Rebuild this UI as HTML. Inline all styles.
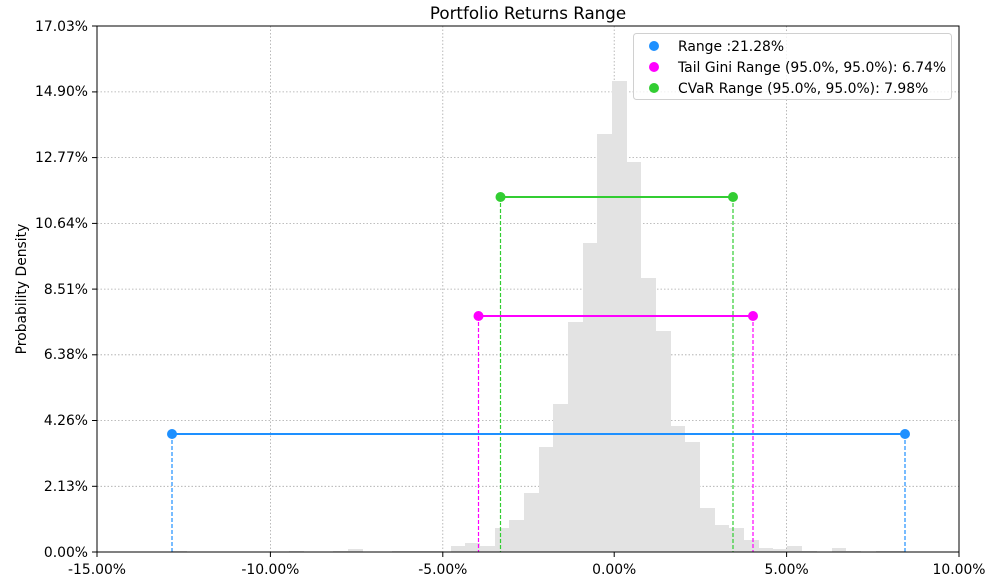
<!DOCTYPE html>
<html><head><meta charset="utf-8"><style>body{margin:0;background:#fff}svg{display:block}text{font-family:"DejaVu Sans","Liberation Sans",sans-serif;font-size:13.9px;fill:#000}</style></head><body>
<svg width="1003" height="586" viewBox="0 0 1003 586" xmlns="http://www.w3.org/2000/svg">
<rect width="1003" height="586" fill="#fff"/>
<g stroke="#a8a8a8" stroke-width="0.8" stroke-dasharray="1.5,2">
<line x1="270.4" y1="26" x2="270.4" y2="552"/><line x1="442.8" y1="26" x2="442.8" y2="552"/><line x1="614.2" y1="26" x2="614.2" y2="552"/><line x1="786.6" y1="26" x2="786.6" y2="552"/>
<line x1="97" y1="486.3" x2="959" y2="486.3"/><line x1="97" y1="420.5" x2="959" y2="420.5"/><line x1="97" y1="354.8" x2="959" y2="354.8"/><line x1="97" y1="289.1" x2="959" y2="289.1"/><line x1="97" y1="223.4" x2="959" y2="223.4"/><line x1="97" y1="157.6" x2="959" y2="157.6"/><line x1="97" y1="91.9" x2="959" y2="91.9"/>
</g>
<g fill="#e3e3e3">
<rect x="172" y="551" width="15" height="1"/><rect x="289" y="551" width="15" height="1"/><rect x="333" y="551" width="15" height="1"/><rect x="348" y="549" width="15" height="3"/><rect x="392" y="551" width="50" height="1"/>
<rect x="451" y="546" width="14" height="6"/><rect x="465" y="543" width="15" height="9"/><rect x="480" y="546" width="15" height="6"/><rect x="495" y="528" width="14" height="24"/><rect x="509" y="520" width="15" height="32"/><rect x="524" y="493" width="15" height="59"/><rect x="539" y="447" width="14" height="105"/><rect x="553" y="404" width="15" height="148"/><rect x="568" y="322" width="15" height="230"/><rect x="583" y="243" width="14" height="309"/><rect x="597" y="134" width="15" height="418"/><rect x="612" y="81" width="15" height="471"/><rect x="627" y="162" width="14" height="390"/><rect x="641" y="278" width="15" height="274"/><rect x="656" y="331" width="15" height="221"/><rect x="671" y="426" width="14" height="126"/><rect x="685" y="442" width="15" height="110"/><rect x="700" y="508" width="15" height="44"/><rect x="715" y="525" width="14" height="27"/><rect x="729" y="528" width="15" height="24"/><rect x="744" y="540" width="15" height="12"/><rect x="759" y="548" width="14" height="4"/><rect x="773" y="549" width="14" height="3"/><rect x="787" y="546" width="15" height="6"/><rect x="802" y="551" width="15" height="1"/><rect x="832" y="548" width="14" height="4"/><rect x="846" y="551" width="15" height="1"/><rect x="876" y="551" width="29" height="1"/>
</g>
<g stroke-width="1.2" stroke-dasharray="4,2">
<line x1="172" y1="434" x2="172" y2="552" stroke="#1e90ff"/><line x1="905" y1="434" x2="905" y2="552" stroke="#1e90ff"/>
<line x1="478.5" y1="316" x2="478.5" y2="552" stroke="#ff00ff"/><line x1="753" y1="316" x2="753" y2="552" stroke="#ff00ff"/>
<line x1="500.5" y1="197" x2="500.5" y2="552" stroke="#32cd32"/><line x1="733" y1="197" x2="733" y2="552" stroke="#32cd32"/>
</g>
<g stroke-width="2">
<line x1="172" y1="434" x2="905" y2="434" stroke="#1e90ff"/><line x1="478.5" y1="316" x2="753" y2="316" stroke="#ff00ff"/><line x1="500.5" y1="197" x2="733" y2="197" stroke="#32cd32"/>
</g>
<circle cx="172" cy="434" r="5" fill="#1e90ff"/><circle cx="905" cy="434" r="5" fill="#1e90ff"/>
<circle cx="478.5" cy="316" r="5" fill="#ff00ff"/><circle cx="753" cy="316" r="5" fill="#ff00ff"/>
<circle cx="500.5" cy="197" r="5" fill="#32cd32"/><circle cx="733" cy="197" r="5" fill="#32cd32"/>
<rect x="97" y="26" width="862" height="526" fill="none" stroke="#000" stroke-width="1"/>
<g stroke="#000" stroke-width="1">
<line x1="97" y1="552" x2="97" y2="557"/><line x1="270.4" y1="552" x2="270.4" y2="557"/><line x1="442.8" y1="552" x2="442.8" y2="557"/><line x1="614.2" y1="552" x2="614.2" y2="557"/><line x1="786.6" y1="552" x2="786.6" y2="557"/><line x1="959" y1="552" x2="959" y2="557"/>
<line x1="92" y1="552" x2="97" y2="552"/><line x1="92" y1="486.3" x2="97" y2="486.3"/><line x1="92" y1="420.5" x2="97" y2="420.5"/><line x1="92" y1="354.8" x2="97" y2="354.8"/><line x1="92" y1="289.1" x2="97" y2="289.1"/><line x1="92" y1="223.4" x2="97" y2="223.4"/><line x1="92" y1="157.6" x2="97" y2="157.6"/><line x1="92" y1="91.9" x2="97" y2="91.9"/><line x1="92" y1="26" x2="97" y2="26"/>
</g>
<g text-anchor="middle">
<text x="97" y="574">-15.00%</text><text x="270.4" y="574">-10.00%</text><text x="442.8" y="574">-5.00%</text><text x="614.2" y="574">0.00%</text><text x="786.6" y="574">5.00%</text><text x="959" y="574">10.00%</text>
</g>
<g text-anchor="end">
<text x="88" y="557">0.00%</text><text x="88" y="491">2.13%</text><text x="88" y="425">4.26%</text><text x="88" y="359">6.38%</text><text x="88" y="294">8.51%</text><text x="88" y="228">10.64%</text><text x="88" y="162">12.77%</text><text x="88" y="96">14.90%</text><text x="88" y="31">17.03%</text>
</g>
<text x="26" y="289" text-anchor="middle" transform="rotate(-90 26 289)">Probability Density</text>
<text x="528" y="19" text-anchor="middle" style="font-size:16.7px">Portfolio Returns Range</text>
<rect x="633.5" y="33.5" width="318" height="66" rx="3" fill="#fff" fill-opacity="0.8" stroke="#d0d0d0"/>
<circle cx="654" cy="46" r="5" fill="#1e90ff"/><circle cx="654" cy="67" r="5" fill="#ff00ff"/><circle cx="654" cy="88" r="5" fill="#32cd32"/>
<text x="678" y="51">Range :21.28%</text><text x="678" y="72">Tail Gini Range (95.0%, 95.0%): 6.74%</text><text x="678" y="93">CVaR Range (95.0%, 95.0%): 7.98%</text>
</svg>
</body></html>
